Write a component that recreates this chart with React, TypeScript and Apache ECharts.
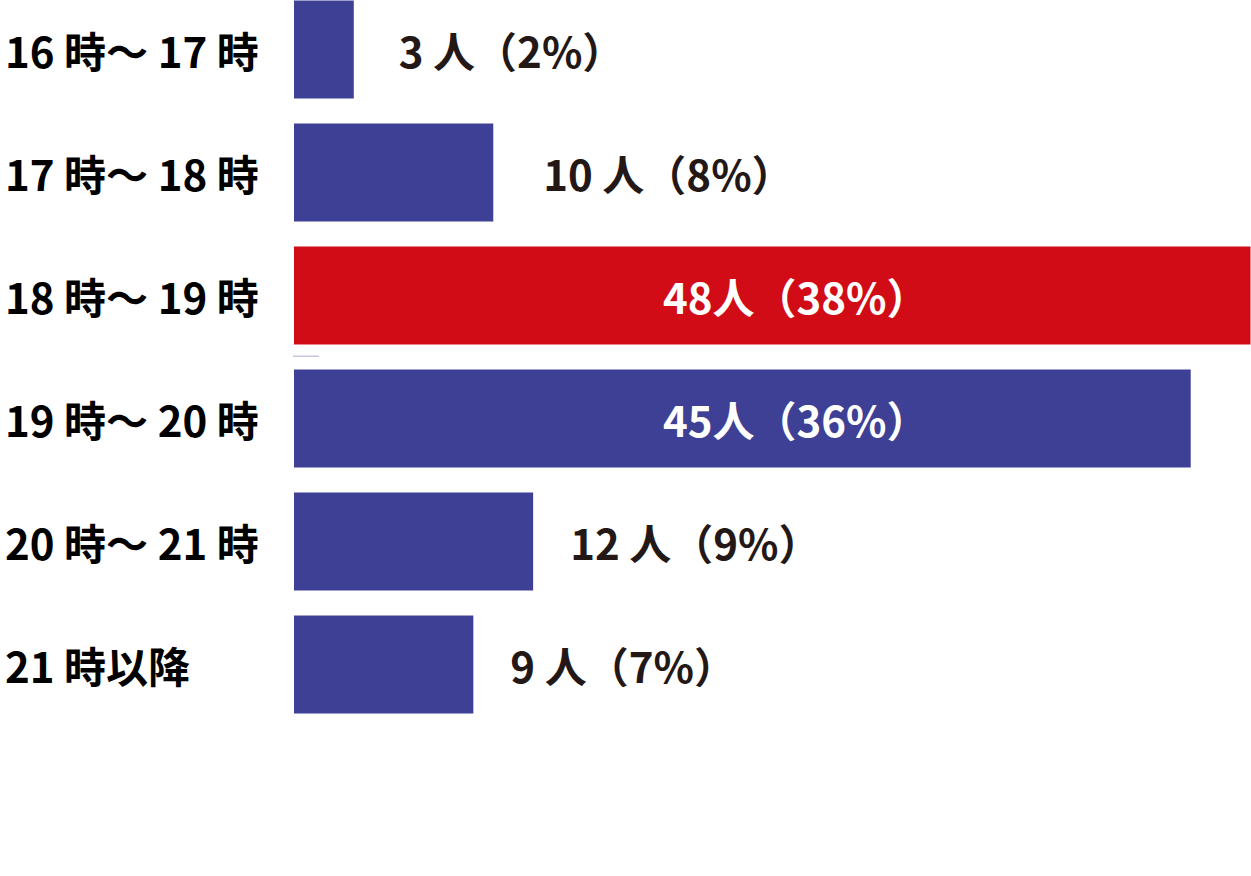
import React, { useEffect, useRef } from "react";
import * as echarts from "echarts";

const categories = ["16 時～ 17 時", "17 時～ 18 時", "18 時～ 19 時", "19 時～ 20 時", "20 時～ 21 時", "21 時以降"];
const counts = [3, 10, 48, 45, 12, 9];
const labels = ["3 人（2%）", "10 人（8%）", "48人（38%）", "45人（36%）", "12 人（9%）", "9 人（7%）"];
const insideFlags = [false, false, true, true, false, false];
const highlight = [false, false, true, false, false, false];
const outsideDistances = [45, 50, 0, 0, 37, 37];

const BLUE = "#3e4095";
const RED = "#d20c17";
const FONT = "'Noto Sans CJK JP', 'Noto Sans', sans-serif";

export default function App() {
  const ref = useRef<HTMLDivElement>(null);
  useEffect(() => {
    if (!ref.current) return;
    const chart = echarts.init(ref.current, undefined, { renderer: "svg" });
    const data = counts.map((v, i) => ({
      value: v,
      itemStyle: { color: highlight[i] ? RED : BLUE },
      label: insideFlags[i]
        ? {
            show: true,
            position: "insideLeft",
            distance: 369,
            color: "#ffffff",
            formatter: labels[i],
          }
        : {
            show: true,
            position: "right",
            distance: outsideDistances[i],
            color: "#231815",
            formatter: labels[i],
          },
    }));
    chart.setOption({
      animation: false,
      backgroundColor: "#ffffff",
      grid: { left: 294, top: 0, width: 956.5, height: 738, containLabel: false },
      xAxis: {
        type: "value",
        min: 0,
        max: 48,
        show: false,
      },
      yAxis: {
        type: "category",
        data: categories,
        inverse: true,
        axisLine: { show: false },
        axisTick: { show: false },
        splitLine: { show: false },
        axisLabel: {
          align: "left",
          margin: 289,
          color: "#000000",
          fontSize: 42,
          fontWeight: "bold",
          fontFamily: FONT,
        },
      },
      series: [
        {
          type: "bar",
          data,
          barWidth: 98,
          label: {
            fontSize: 42,
            fontWeight: "bold",
            fontFamily: FONT,
          },
        },
      ],
      graphic: [
        {
          type: "rect",
          shape: { x: 293, y: 367.5, width: 26, height: 1.5 },
          style: { fill: "#c9c6e4" },
          silent: true,
        },
      ],
    });
    return () => chart.dispose();
  }, []);
  return (
    <div
      ref={ref}
      style={{ position: "absolute", left: 0, top: -12.5, width: 1251, height: 888.5 }}
    />
  );
}
